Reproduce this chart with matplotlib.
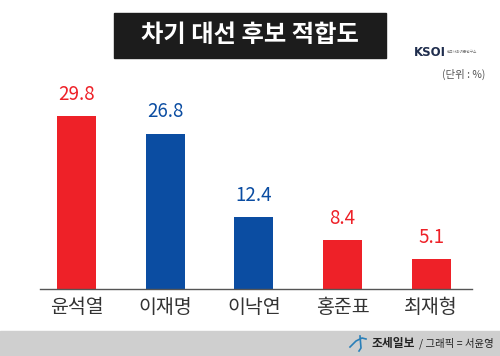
import matplotlib
matplotlib.use('Agg')
import matplotlib.pyplot as plt
from matplotlib.patches import Rectangle

plt.rcParams['font.family'] = ['Noto Sans CJK KR', 'DejaVu Sans']

# data
names = ["윤석열", "이재명", "이낙연", "홍준표", "최재형"]
values = [29.8, 26.8, 12.4, 8.4, 5.1]
parties = ["red", "blue", "blue", "red", "red"]

RED = "#EE2128"
BLUE = "#0B4DA2"
COLORS = {"red": RED, "blue": BLUE}

fig = plt.figure(figsize=(5, 3.56), dpi=100)
fig.patch.set_facecolor("white")

# title box
fig.patches.append(Rectangle((114 / 500, 1 - 58 / 356), 272 / 500, 45 / 356,
                             transform=fig.transFigure, color="#1c1c1c", zorder=0))
fig.text(0.5, 1 - 35.5 / 356, "차기 대선 후보 적합도", ha="center", va="center",
         color="white", fontsize=17.5, fontweight="bold")

# KSOI logo + unit
fig.text(414 / 500, 1 - 52 / 356, "KSOI", ha="left", va="center",
         color="#1f2d4d", fontsize=8.5, fontweight="bold", family="DejaVu Sans")
fig.text(447 / 500, 1 - 52 / 356, "한국사회여론연구소", ha="left", va="center",
         color="#777777", fontsize=2.6)
fig.text(485 / 500, 1 - 74 / 356, "(단위 : %)", ha="right", va="center",
         color="#555555", fontsize=7.5)

# chart
ax = fig.add_axes([40 / 500, 1 - 289 / 356, 432 / 500, 189 / 356])
cols = [COLORS[p] for p in parties]
x = range(len(names))
ax.bar(x, values, width=0.44, color=cols, zorder=2)
for i, v in enumerate(values):
    ax.text(i, v + 2.0, f"{v}", ha="center", va="bottom", color=cols[i], fontsize=13.5)

ax.set_xlim(-0.41, 4.46)
ax.set_ylim(0, 32.6)
for s in ["top", "right", "left"]:
    ax.spines[s].set_visible(False)
ax.spines["bottom"].set_color("#555555")
ax.spines["bottom"].set_linewidth(1.0)
ax.set_yticks([])
ax.set_xticks(list(x))
ax.set_xticklabels(names, fontsize=14, color="#333333")
ax.tick_params(axis="x", length=0, pad=6)

# footer band
fig.patches.append(Rectangle((0, 0), 1, 25 / 356, transform=fig.transFigure,
                             color="#cfcfcf", zorder=0))
fig.text(372 / 500, 13 / 356, "조세일보", ha="left", va="center",
         color="#222222", fontsize=8.5, fontweight="bold")
fig.text(419 / 500, 13 / 356, "/ 그래픽 = 서윤영", ha="left", va="center",
         color="#222222", fontsize=7.5)
# swoosh logo
fig.lines.append(plt.Line2D([350 / 500, 356 / 500, 362 / 500, 366 / 500],
                            [9 / 356, 15 / 356, 18 / 356, 17 / 356],
                            transform=fig.transFigure, color="#2a7fb8", lw=1.2))
fig.lines.append(plt.Line2D([360 / 500, 361 / 500, 359 / 500],
                            [20 / 356, 8 / 356, 5 / 356],
                            transform=fig.transFigure, color="#2a7fb8", lw=1.2))

fig.savefig("out.png", dpi=100)
